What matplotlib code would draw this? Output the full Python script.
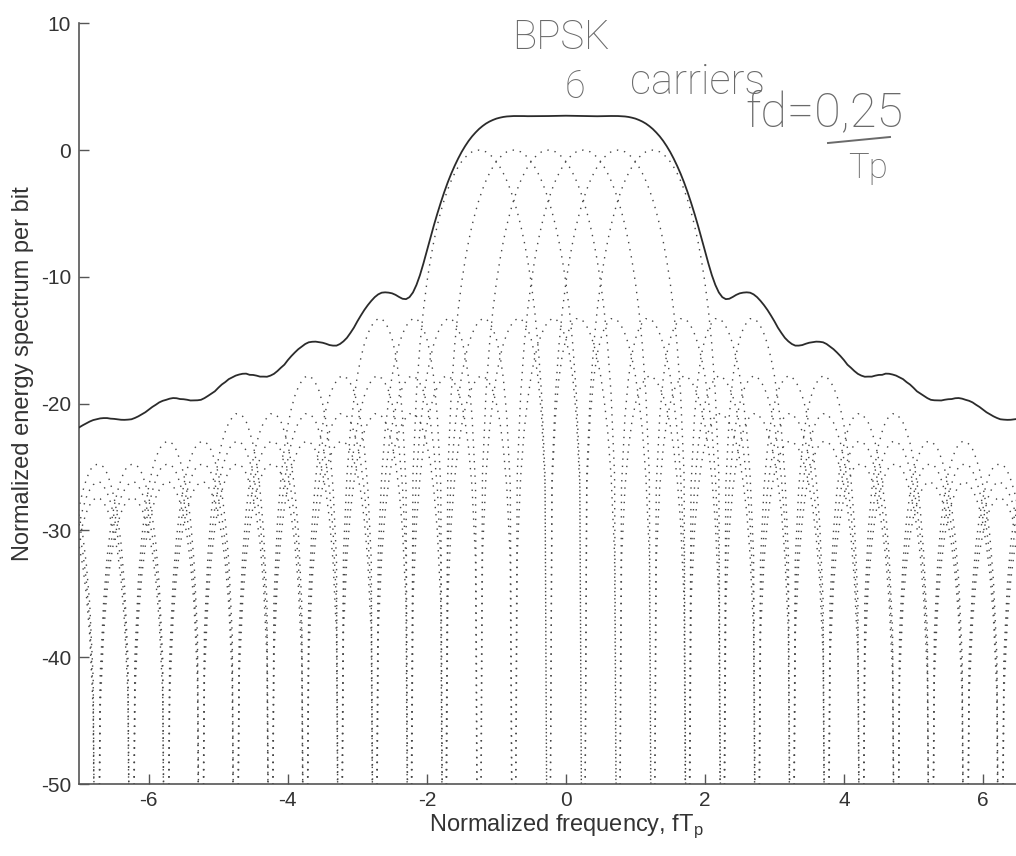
import numpy as np
import matplotlib
matplotlib.use("Agg")
import matplotlib.pyplot as plt
from matplotlib.lines import Line2D

plt.rcParams["axes.unicode_minus"] = False

# ---------------- data ----------------
# carrier centre frequencies (normalized, fT_p)
carrier_freqs = [-1.25, -0.75, -0.25, 0.25, 0.75, 1.25]

# single-carrier energy spectrum (dB),
# at offsets 0, 0.05, 0.10, ... 8.25 from the carrier centre (NULL = spectral null)
profile_step = 0.05
NULL = -80.0
carrier_profile_db = [
    0.0, -0.04, -0.14, -0.32, -0.58, -0.91, -1.33, -1.83, -2.42, -3.11,
    -3.92, -4.86, -5.94, -7.20, -8.69, -10.45, -12.62, -15.39, -19.23, -25.61,
    NULL,
    -26.5, -21.0, -18.0, -16.1, -14.9, -14.1, -13.6, -13.3, -13.3, -13.5,
    -13.9, -14.5, -15.3, -16.4, -17.8, -19.7, -22.1, -25.7, -31.9,
    NULL,
    -32.3, -26.6, -23.5, -21.4, -20.0, -19.0, -18.4, -18.0, -17.8, -17.9,
    -18.2, -18.7, -19.4, -20.4, -21.7, -23.5, -25.9, -29.4, -35.5,
    NULL,
    -35.7, -30.0, -26.8, -24.7, -23.2, -22.2, -21.4, -21.0, -20.8, -20.8,
    -21.1, -21.5, -22.2, -23.1, -24.4, -26.2, -28.5, -32.0, -38.0,
    NULL,
    -38.2, -32.4, -29.2, -27.0, -25.5, -24.5, -23.7, -23.2, -23.0, -23.0,
    -23.2, -23.6, -24.3, -25.2, -26.5, -28.2, -30.5, -33.9, -39.9,
    NULL,
    -40.1, -34.3, -31.0, -28.9, -27.4, -26.3, -25.5, -25.0, -24.8, -24.8,
    -24.9, -25.3, -26.0, -26.9, -28.1, -29.8, -32.1, -35.6, -41.5,
    NULL,
    -41.7, -35.8, -32.6, -30.4, -28.9, -27.8, -27.0, -26.5, -26.2, -26.2,
    -26.4, -26.8, -27.4, -28.3, -29.5, -31.2, -33.5, -36.9, -42.9,
    NULL,
    -43.0, -37.2, -33.9, -31.7, -30.2, -29.1, -28.3, -27.8, -27.5, -27.4,
    -27.6, -28.0, -28.6, -29.5, -30.7, -32.4, -34.7, -38.1, -44.1,
    NULL,
    -44.2, -38.3, -35.0, -32.8, -31.3,
]

x_ticks = [-6, -4, -2, 0, 2, 4, 6]
y_ticks = [10, 0, -10, -20, -30, -40, -50]
x_range = (-7, 7)
y_range = (-50, 10)

xlabel = "Normalized frequency, fT$_\\mathregular{p}$"
ylabel = "Normalized energy spectrum per bit"
note_mod = "BPSK"
note_count = "6"
note_carriers = "carriers"
note_fd = "fd=0,25"
note_tp = "Tp"

# ---------------- tables built from the data ----------------
prof = np.array(carrier_profile_db)
offs = np.arange(len(prof)) * profile_step
offs_full = np.concatenate([-offs[:0:-1], offs])
prof_full = np.concatenate([prof[:0:-1], prof])

# total spectrum = power sum of the carrier spectra on a common grid
n_half = int(round(x_range[1] / profile_step))
x_grid = np.arange(-n_half, n_half + 1) * profile_step
power = np.zeros_like(x_grid)
for c in carrier_freqs:
    idx = np.rint(np.abs(x_grid - c) / profile_step).astype(int)
    power += 10 ** (prof[idx] / 10)
total_db = 10 * np.log10(power)

# ---------------- figure ----------------
W, H = 1016, 856
fig = plt.figure(figsize=(W / 100, H / 100), dpi=100)
fig.patch.set_facecolor("white")

ax_l, ax_r, ax_t, ax_b = 79.3, 1052.5, 23.3, 784.0
ax = fig.add_axes([ax_l / W, 1 - ax_b / H, (ax_r - ax_l) / W, (ax_b - ax_t) / H])

for c in carrier_freqs:
    ax.plot(c + offs_full, prof_full, color="0.27", lw=1.0,
            linestyle=(0, (1, 4.2)), zorder=2)

ax.plot(x_grid, total_db, color="#2b2b2b", lw=1.3, zorder=3)

ax.set_xlim(*x_range)
ax.set_ylim(*y_range)
ax.set_xticks(x_ticks)
ax.set_yticks(y_ticks)

font = ["Liberation Sans", "DejaVu Sans"]
axis_col = "#555555"
text_col = "#333333"
for s in ("top", "right"):
    ax.spines[s].set_visible(False)
for s in ("left", "bottom"):
    ax.spines[s].set_color(axis_col)
    ax.spines[s].set_linewidth(1.2)
ax.tick_params(direction="in", length=7, width=1.0, color=axis_col,
               labelcolor=text_col, labelsize=15)
ax.tick_params(axis="y", pad=6)
ax.tick_params(axis="x", pad=5)
for lab in ax.get_xticklabels() + ax.get_yticklabels():
    lab.set_fontfamily(font)

ax.set_xlabel(xlabel, fontsize=17, family=font, color=text_col, labelpad=2)
ax.set_ylabel(ylabel, fontsize=17, family=font, color=text_col)
ax.yaxis.set_label_coords(-0.047, 0.539)

# handwritten notes
hand = ["Roboto", "DejaVu Sans"]
pencil = "#6a6a6a"
def px(x, y):
    return x / W, 1 - y / H
fig.text(*px(561, 38), note_mod, fontsize=29, family=hand, weight="light",
         color=pencil, ha="center", va="center")
fig.text(*px(575, 87), note_count, fontsize=27, family=hand, weight="light",
         color=pencil, ha="center", va="center")
fig.text(*px(697, 83), note_carriers, fontsize=30, family=hand, weight="light",
         color=pencil, ha="center", va="center")
fig.text(*px(824, 113), note_fd, fontsize=35, family=hand, weight="light",
         color=pencil, ha="center", va="center")
fig.text(*px(868, 168), note_tp, fontsize=25, family=hand, weight="light",
         color=pencil, ha="center", va="center")
bar_x0, bar_y0 = px(828, 143)
bar_x1, bar_y1 = px(890, 137)
fig.add_artist(Line2D([bar_x0, bar_x1], [bar_y0, bar_y1], color=pencil,
                      lw=1.4, transform=fig.transFigure))

fig.savefig("out.png", dpi=100)
